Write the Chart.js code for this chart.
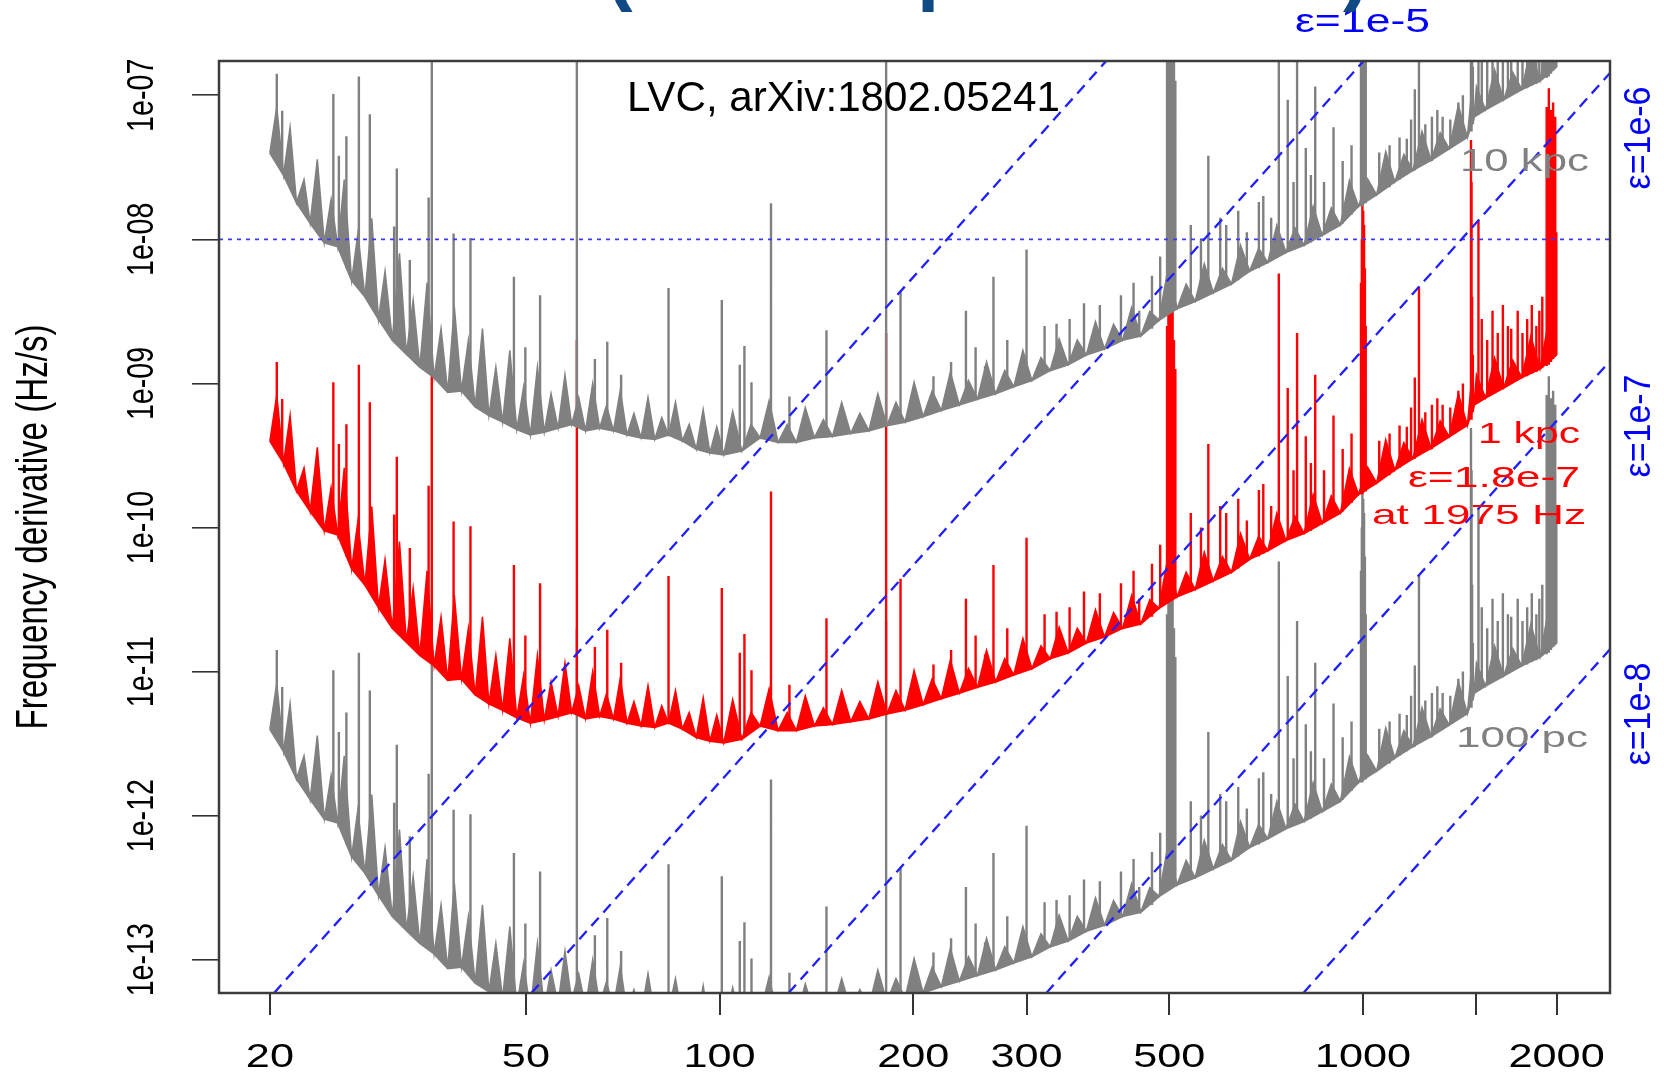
<!DOCTYPE html>
<html>
<head>
<meta charset="utf-8">
<title>Frequency derivative</title>
<script src="https://cdn.jsdelivr.net/npm/chart.js@4.4.1/dist/chart.umd.min.js"></script>
<style>
  html, body { margin: 0; padding: 0; background: #ffffff; overflow: hidden; }
  canvas { display: block; }
</style>
</head>
<body>
<canvas id="canvas" width="1664" height="1074"></canvas>
<script>

// sample frequencies of the noisy sensitivity band (Hz)
var freqHz = [
    20, 20.5, 21, 21.5, 22, 22.6, 23.1, 23.7, 24.3, 24.9,
    25.5, 26.1, 26.8, 27.4, 28.1, 28.8, 29.5, 30.2, 31, 31.8,
    32.6, 33.4, 34.2, 35.1, 36, 36.9, 37.8, 38.7, 39.7, 40.7,
    41.7, 42.8, 43.8, 44.9, 46, 47.2, 48.4, 49.6, 50.8, 52.1,
    53.4, 54.7, 56.1, 57.5, 58.9, 60.4, 61.9, 63.5, 65.1, 66.7,
    68.4, 70.1, 71.8, 73.6, 75.5, 77.4, 79.3, 81.3, 83.3, 85.4,
    87.5, 89.7, 92, 94.3, 96.6, 99, 101.5, 104.8, 108.3, 111.9,
    115.6, 119.4, 123.3, 127.4, 131.6, 135.9, 140.4, 145, 149.8, 154.8,
    159.9, 165.2, 170.6, 176.2, 182, 188, 194.2, 200.6, 207.2, 214,
    221.1, 228.4, 235.9, 243.7, 251.7, 260, 268.6, 277.5, 286.6, 296.1,
    305.8, 315.9, 326.4, 337.1, 348.2, 359.7, 371.6, 383.9, 396.5, 409.6,
    423.1, 437.1, 451.5, 466.4, 481.8, 497.7, 514.1, 531.1, 548.6, 566.7,
    585.4, 604.7, 624.7, 645.3, 666.6, 688.6, 711.3, 734.8, 759, 784.1,
    810, 836.7, 864.3, 892.8, 922.3, 952.7, 984.2, 1016.7, 1050.2, 1084.9,
    1120.7, 1157.7, 1195.9, 1235.4, 1276.1, 1318.2, 1361.7, 1406.7, 1453.1, 1470,
    1488, 1501, 1550.6, 1601.7, 1654.6, 1709.2, 1765.6, 1823.9, 1884.1, 1946.2,
    2000
];

// 1 kpc (red), low / high of the band in turn
var fdot1kpc = [
    4.0e-10, 8.3e-10, 2.8e-10, 6.0e-10, 1.8e-10, 2.6e-10, 1.3e-10, 3.6e-10, 9.5e-11, 1.9e-10,
    8.9e-11, 2.6e-10, 5.2e-11, 1.1e-10, 4.0e-11, 1.4e-10, 2.8e-11, 6.0e-11, 2.0e-11, 8.0e-11,
    1.6e-11, 3.8e-11, 1.3e-11, 5.0e-11, 1.1e-11, 2.4e-11, 8.7e-12, 3.4e-11, 8.9e-12, 2.0e-11,
    6.9e-12, 2.4e-11, 6.0e-12, 1.3e-11, 5.4e-12, 1.7e-11, 4.8e-12, 9.5e-12, 4.4e-12, 1.3e-11,
    4.6e-12, 8.5e-12, 4.9e-12, 1.15e-11, 5.2e-12, 8.0e-12, 4.7e-12, 1.0e-11, 4.9e-12, 7.0e-12,
    4.7e-12, 9.0e-12, 4.4e-12, 6.2e-12, 4.2e-12, 8.0e-12, 4.1e-12, 5.8e-12, 4.4e-12, 7.4e-12,
    4.0e-12, 5.2e-12, 3.5e-12, 6.6e-12, 3.3e-12, 5.0e-12, 3.2e-12, 6.4e-12, 3.4e-12, 5.2e-12,
    4.2e-12, 7.6e-12, 3.9e-12, 5.2e-12, 3.9e-12, 6.8e-12, 4.2e-12, 5.6e-12, 4.3e-12, 7.4e-12,
    4.5e-12, 6.2e-12, 4.7e-12, 8.5e-12, 5.1e-12, 7.4e-12, 5.4e-12, 1.02e-11, 5.9e-12, 8.9e-12,
    6.5e-12, 1.2e-11, 7.1e-12, 1.05e-11, 7.8e-12, 1.41e-11, 8.5e-12, 1.23e-11, 9.5e-12, 1.7e-11,
    1.05e-11, 1.51e-11, 1.23e-11, 2.04e-11, 1.35e-11, 2.0e-11, 1.58e-11, 2.69e-11, 1.74e-11, 2.57e-11,
    2.0e-11, 3.39e-11, 2.14e-11, 3.16e-11, 2.75e-11, 6.3e-11, 3.31e-11, 4.9e-11, 3.72e-11, 6.76e-11,
    4.27e-11, 6.3e-11, 4.9e-11, 9.1e-11, 6.03e-11, 8.7e-11, 6.92e-11, 1.26e-10, 8.13e-11, 1.2e-10,
    9.12e-11, 1.7e-10, 1.07e-10, 1.66e-10, 1.26e-10, 2.57e-10, 1.7e-10, 2.63e-10, 2.04e-10, 4.07e-10,
    2.51e-10, 3.89e-10, 3.02e-10, 5.62e-10, 3.55e-10, 5.5e-10, 4.27e-10, 8.5e-10, 5.13e-10, 8.91e-10,
    7.08e-10, 1.15e-9, 7.94e-10, 1.51e-9, 9.33e-10, 1.45e-9, 1.1e-9, 2.14e-9, 1.26e-9, 2.82e-9,
    1.58e-9
];

// 10 kpc (gray, upper)
var fdot10kpc = [
    4.0e-8, 8.3e-8, 2.8e-8, 6.0e-8, 1.8e-8, 2.6e-8, 1.3e-8, 3.6e-8, 9.5e-9, 1.9e-8,
    8.9e-9, 2.6e-8, 5.2e-9, 1.1e-8, 4.0e-9, 1.4e-8, 2.8e-9, 6.0e-9, 2.0e-9, 8.0e-9,
    1.6e-9, 3.8e-9, 1.3e-9, 5.0e-9, 1.1e-9, 2.4e-9, 8.7e-10, 3.4e-9, 8.9e-10, 2.0e-9,
    6.9e-10, 2.4e-9, 6.0e-10, 1.3e-9, 5.4e-10, 1.7e-9, 4.8e-10, 9.5e-10, 4.4e-10, 1.3e-9,
    4.6e-10, 8.5e-10, 4.9e-10, 1.15e-9, 5.2e-10, 8.0e-10, 4.7e-10, 1.0e-9, 4.9e-10, 7.0e-10,
    4.7e-10, 9.0e-10, 4.4e-10, 6.2e-10, 4.2e-10, 8.0e-10, 4.1e-10, 5.8e-10, 4.4e-10, 7.4e-10,
    4.0e-10, 5.2e-10, 3.5e-10, 6.6e-10, 3.3e-10, 5.0e-10, 3.2e-10, 6.4e-10, 3.4e-10, 5.2e-10,
    4.2e-10, 7.6e-10, 3.9e-10, 5.2e-10, 3.9e-10, 6.8e-10, 4.2e-10, 5.6e-10, 4.3e-10, 7.4e-10,
    4.5e-10, 6.2e-10, 4.7e-10, 8.5e-10, 5.1e-10, 7.4e-10, 5.4e-10, 1.02e-9, 5.9e-10, 8.9e-10,
    6.5e-10, 1.2e-9, 7.1e-10, 1.05e-9, 7.8e-10, 1.41e-9, 8.5e-10, 1.23e-9, 9.5e-10, 1.7e-9,
    1.05e-9, 1.51e-9, 1.23e-9, 2.04e-9, 1.35e-9, 2.0e-9, 1.58e-9, 2.69e-9, 1.74e-9, 2.57e-9,
    2.0e-9, 3.39e-9, 2.14e-9, 3.16e-9, 2.75e-9, 6.3e-9, 3.31e-9, 4.9e-9, 3.72e-9, 6.76e-9,
    4.27e-9, 6.3e-9, 4.9e-9, 9.1e-9, 6.03e-9, 8.7e-9, 6.92e-9, 1.26e-8, 8.13e-9, 1.2e-8,
    9.12e-9, 1.7e-8, 1.07e-8, 1.66e-8, 1.26e-8, 2.57e-8, 1.7e-8, 2.63e-8, 2.04e-8, 4.07e-8,
    2.51e-8, 3.89e-8, 3.02e-8, 5.62e-8, 3.55e-8, 5.5e-8, 4.27e-8, 8.5e-8, 5.13e-8, 8.91e-8,
    7.08e-8, 1.15e-7, 7.94e-8, 1.51e-7, 9.33e-8, 1.45e-7, 1.1e-7, 2.14e-7, 1.26e-7, 2.82e-7,
    1.58e-7
];

// 100 pc (gray, lower)
var fdot100pc = [
    4.0e-12, 8.3e-12, 2.8e-12, 6.0e-12, 1.8e-12, 2.6e-12, 1.3e-12, 3.6e-12, 9.5e-13, 1.9e-12,
    8.9e-13, 2.6e-12, 5.2e-13, 1.1e-12, 4.0e-13, 1.4e-12, 2.8e-13, 6.0e-13, 2.0e-13, 8.0e-13,
    1.6e-13, 3.8e-13, 1.3e-13, 5.0e-13, 1.1e-13, 2.4e-13, 8.7e-14, 3.4e-13, 8.9e-14, 2.0e-13,
    6.9e-14, 2.4e-13, 6.0e-14, 1.3e-13, 5.4e-14, 1.7e-13, 4.8e-14, 9.5e-14, 4.4e-14, 1.3e-13,
    4.6e-14, 8.5e-14, 4.9e-14, 1.15e-13, 5.2e-14, 8.0e-14, 4.7e-14, 1.0e-13, 4.9e-14, 7.0e-14,
    4.7e-14, 9.0e-14, 4.4e-14, 6.2e-14, 4.2e-14, 8.0e-14, 4.1e-14, 5.8e-14, 4.4e-14, 7.4e-14,
    4.0e-14, 5.2e-14, 3.5e-14, 6.6e-14, 3.3e-14, 5.0e-14, 3.2e-14, 6.4e-14, 3.4e-14, 5.2e-14,
    4.2e-14, 7.6e-14, 3.9e-14, 5.2e-14, 3.9e-14, 6.8e-14, 4.2e-14, 5.6e-14, 4.3e-14, 7.4e-14,
    4.5e-14, 6.2e-14, 4.7e-14, 8.5e-14, 5.1e-14, 7.4e-14, 5.4e-14, 1.02e-13, 5.9e-14, 8.9e-14,
    6.5e-14, 1.2e-13, 7.1e-14, 1.05e-13, 7.8e-14, 1.41e-13, 8.5e-14, 1.23e-13, 9.5e-14, 1.7e-13,
    1.05e-13, 1.51e-13, 1.23e-13, 2.04e-13, 1.35e-13, 2.0e-13, 1.58e-13, 2.69e-13, 1.74e-13, 2.57e-13,
    2.0e-13, 3.39e-13, 2.14e-13, 3.16e-13, 2.75e-13, 6.3e-13, 3.31e-13, 4.9e-13, 3.72e-13, 6.76e-13,
    4.27e-13, 6.3e-13, 4.9e-13, 9.1e-13, 6.03e-13, 8.7e-13, 6.92e-13, 1.26e-12, 8.13e-13, 1.2e-12,
    9.12e-13, 1.7e-12, 1.07e-12, 1.66e-12, 1.26e-12, 2.57e-12, 1.7e-12, 2.63e-12, 2.04e-12, 4.07e-12,
    2.51e-12, 3.89e-12, 3.02e-12, 5.62e-12, 3.55e-12, 5.5e-12, 4.27e-12, 8.5e-12, 5.13e-12, 8.91e-12,
    7.08e-12, 1.15e-11, 7.94e-12, 1.51e-11, 9.33e-12, 1.45e-11, 1.1e-11, 2.14e-11, 1.26e-11, 2.82e-11,
    1.58e-11
];

// narrow spectral lines (Hz) with their top and foot
var lineHz = [
    20.5, 20.9, 25.1, 25.6, 26.3, 27.5, 28.6, 31.2, 31.5, 33,
    35.3, 35.7, 38.6, 41, 47.9, 49.9, 52.6, 60, 64, 66.9,
    70.3, 83.3, 100.8, 107.5, 109.3, 112.1, 120.2, 128.4, 146.6, 181.5,
    191.1, 215, 229, 241.5, 250, 258.6, 266.5, 280, 300, 320,
    334, 350, 368.5, 390, 420.6, 440, 449, 470, 484, 496,
    498.5, 501, 503.5, 506, 508.5, 511, 540, 560, 575, 600,
    613, 640, 660, 689, 700, 720, 740, 764, 780, 790,
    815, 830, 843, 870, 900, 930, 960, 993, 996, 998,
    1001, 1004, 1007, 1010, 1060, 1100, 1140, 1170, 1188, 1204,
    1222, 1250, 1280, 1305, 1330, 1367, 1407, 1430, 1472, 1475,
    1478, 1482, 1512, 1530, 1560, 1590, 1620, 1650, 1680, 1700,
    1740, 1770, 1800, 1830, 1860, 1880, 1900, 1930, 1945, 1960,
    1975, 1990, 1998
];
var lineTop1kpc = [
    1.41e-9, 7.8e-10, 1.02e-9, 3.8e-10, 5.2e-10, 1.35e-9, 7.4e-10, 1.23e-10, 3.1e-10, 7.2e-11,
    1.95e-10, 1.91e-9, 1.1e-10, 1.02e-10, 5.5e-11, 1.78e-11, 4.1e-11, 2.0e-9, 1.48e-11, 1.95e-11,
    1.15e-11, 4.6e-11, 3.8e-11, 1.35e-11, 1.82e-11, 1.02e-11, 1.78e-10, 8.1e-12, 2.34e-11, 2.24e-9,
    4.4e-11, 1.12e-11, 1.41e-11, 3.2e-11, 1.78e-11, 1.32e-11, 5.5e-11, 2.0e-11, 8.5e-11, 2.5e-11,
    2.6e-11, 2.8e-11, 3.6e-11, 3.5e-11, 4.1e-11, 5.0e-11, 3.2e-11, 5.6e-11, 7.6e-11, 2.5e-9,
    3.5e-9, 4.7e-9, 4.0e-9, 3.2e-9, 2.0e-9, 1.26e-9, 1.26e-10, 1.0e-10, 3.8e-10, 1.41e-10,
    1.26e-10, 1.58e-10, 1.12e-10, 1.82e-10, 2.0e-10, 1.41e-10, 5.8e-9, 9.3e-10, 2.5e-10, 2.24e-9,
    4.3e-10, 2.8e-10, 1.15e-9, 2.5e-10, 6.0e-10, 3.5e-10, 4.5e-10, 5.0e-9, 1.0e-8, 2.14e-8,
    1.58e-8, 1.26e-8, 6.3e-9, 2.5e-9, 4.0e-10, 4.5e-10, 5.1e-10, 5.0e-10, 6.8e-10, 1.1e-9,
    4.7e-9, 6.3e-10, 7.1e-10, 7.9e-10, 7.1e-10, 6.8e-10, 8.9e-10, 1.0e-9, 4.9e-8, 2.5e-8,
    4.0e-9, 1.58e-9, 1.35e-8, 2.8e-9, 2.0e-9, 3.2e-9, 2.24e-9, 3.5e-9, 2.5e-9, 2.4e-9,
    3.2e-9, 2.24e-9, 2.8e-9, 3.5e-9, 2.5e-9, 3.2e-9, 4.0e-9, 8.3e-8, 1.12e-7, 7.9e-8,
    8.9e-8, 7.1e-8, 1.12e-8
];
var lineFoot1kpc = [
    4.0e-10, 3.2e-10, 1.26e-10, 1.0e-10, 6.3e-11, 5.0e-11, 4.0e-11, 2.5e-11, 2.5e-11, 1.6e-11,
    1.26e-11, 1.26e-11, 1.0e-11, 7.9e-12, 5.0e-12, 5.0e-12, 5.0e-12, 5.0e-12, 5.0e-12, 5.0e-12,
    4.5e-12, 4.5e-12, 3.5e-12, 3.5e-12, 3.5e-12, 4.0e-12, 4.0e-12, 4.0e-12, 4.2e-12, 5.0e-12,
    5.4e-12, 6.3e-12, 6.8e-12, 7.4e-12, 7.8e-12, 8.1e-12, 8.5e-12, 9.1e-12, 1.02e-11, 1.17e-11,
    1.26e-11, 1.38e-11, 1.58e-11, 1.7e-11, 2.0e-11, 2.1e-11, 2.1e-11, 2.4e-11, 2.8e-11, 4.0e-11,
    4.0e-11, 4.0e-11, 4.0e-11, 3.5e-11, 3.5e-11, 3.5e-11, 3.6e-11, 3.9e-11, 4.2e-11, 4.5e-11,
    5.0e-11, 5.2e-11, 5.8e-11, 6.3e-11, 6.6e-11, 7.1e-11, 7.8e-11, 8.3e-11, 8.5e-11, 8.9e-11,
    9.3e-11, 9.5e-11, 1.0e-10, 1.07e-10, 1.2e-10, 1.29e-10, 1.48e-10, 1.7e-10, 1.7e-10, 1.7e-10,
    1.75e-10, 1.78e-10, 1.78e-10, 1.78e-10, 2.1e-10, 2.3e-10, 2.6e-10, 2.8e-10, 2.95e-10, 3.0e-10,
    3.2e-10, 3.4e-10, 3.5e-10, 3.8e-10, 4.0e-10, 4.4e-10, 4.8e-10, 5.0e-10, 5.6e-10, 5.6e-10,
    6.3e-10, 6.3e-10, 7.4e-10, 7.9e-10, 8.1e-10, 8.5e-10, 8.9e-10, 9.3e-10, 9.8e-10, 1.0e-9,
    1.05e-9, 1.1e-9, 1.12e-9, 1.17e-9, 1.2e-9, 1.26e-9, 1.29e-9, 1.32e-9, 1.35e-9, 1.41e-9,
    1.48e-9, 1.58e-9, 1.58e-9
];
var lineTop10kpc = [
    1.41e-7, 7.8e-8, 1.02e-7, 3.8e-8, 5.2e-8, 1.35e-7, 7.4e-8, 1.23e-8, 3.1e-8, 7.2e-9,
    1.95e-8, 1.91e-7, 1.1e-8, 1.02e-8, 5.5e-9, 1.78e-9, 4.1e-9, 2.0e-7, 1.48e-9, 1.95e-9,
    1.15e-9, 4.6e-9, 3.8e-9, 1.35e-9, 1.82e-9, 1.02e-9, 1.78e-8, 8.1e-10, 2.34e-9, 2.24e-7,
    4.4e-9, 1.12e-9, 1.41e-9, 3.2e-9, 1.78e-9, 1.32e-9, 5.5e-9, 2.0e-9, 8.5e-9, 2.5e-9,
    2.6e-9, 2.8e-9, 3.6e-9, 3.5e-9, 4.1e-9, 5.0e-9, 3.2e-9, 5.6e-9, 7.6e-9, 2.5e-7,
    3.5e-7, 4.7e-7, 4.0e-7, 3.2e-7, 2.0e-7, 1.26e-7, 1.26e-8, 1.0e-8, 3.8e-8, 1.41e-8,
    1.26e-8, 1.58e-8, 1.12e-8, 1.82e-8, 2.0e-8, 1.41e-8, 5.8e-7, 9.3e-8, 2.5e-8, 2.24e-7,
    4.3e-8, 2.8e-8, 1.15e-7, 2.5e-8, 6.0e-8, 3.5e-8, 4.5e-8, 5.0e-7, 1.0e-6, 2.14e-6,
    1.58e-6, 1.26e-6, 6.3e-7, 2.5e-7, 4.0e-8, 4.5e-8, 5.1e-8, 5.0e-8, 6.8e-8, 1.1e-7,
    4.7e-7, 6.3e-8, 7.1e-8, 7.9e-8, 7.1e-8, 6.8e-8, 8.9e-8, 1.0e-7, 4.9e-6, 2.5e-6,
    4.0e-7, 1.58e-7, 1.35e-6, 2.8e-7, 2.0e-7, 3.2e-7, 2.24e-7, 3.5e-7, 2.5e-7, 2.4e-7,
    3.2e-7, 2.24e-7, 2.8e-7, 3.5e-7, 2.5e-7, 3.2e-7, 4.0e-7, 8.3e-6, 1.12e-5, 7.9e-6,
    8.9e-6, 7.1e-6, 1.12e-6
];
var lineFoot10kpc = [
    4.0e-8, 3.2e-8, 1.26e-8, 1.0e-8, 6.3e-9, 5.0e-9, 4.0e-9, 2.5e-9, 2.5e-9, 1.6e-9,
    1.26e-9, 1.26e-9, 1.0e-9, 7.9e-10, 5.0e-10, 5.0e-10, 5.0e-10, 5.0e-10, 5.0e-10, 5.0e-10,
    4.5e-10, 4.5e-10, 3.5e-10, 3.5e-10, 3.5e-10, 4.0e-10, 4.0e-10, 4.0e-10, 4.2e-10, 5.0e-10,
    5.4e-10, 6.3e-10, 6.8e-10, 7.4e-10, 7.8e-10, 8.1e-10, 8.5e-10, 9.1e-10, 1.02e-9, 1.17e-9,
    1.26e-9, 1.38e-9, 1.58e-9, 1.7e-9, 2.0e-9, 2.1e-9, 2.1e-9, 2.4e-9, 2.8e-9, 4.0e-9,
    4.0e-9, 4.0e-9, 4.0e-9, 3.5e-9, 3.5e-9, 3.5e-9, 3.6e-9, 3.9e-9, 4.2e-9, 4.5e-9,
    5.0e-9, 5.2e-9, 5.8e-9, 6.3e-9, 6.6e-9, 7.1e-9, 7.8e-9, 8.3e-9, 8.5e-9, 8.9e-9,
    9.3e-9, 9.5e-9, 1.0e-8, 1.07e-8, 1.2e-8, 1.29e-8, 1.48e-8, 1.7e-8, 1.7e-8, 1.7e-8,
    1.75e-8, 1.78e-8, 1.78e-8, 1.78e-8, 2.1e-8, 2.3e-8, 2.6e-8, 2.8e-8, 2.95e-8, 3.0e-8,
    3.2e-8, 3.4e-8, 3.5e-8, 3.8e-8, 4.0e-8, 4.4e-8, 4.8e-8, 5.0e-8, 5.6e-8, 5.6e-8,
    6.3e-8, 6.3e-8, 7.4e-8, 7.9e-8, 8.1e-8, 8.5e-8, 8.9e-8, 9.3e-8, 9.8e-8, 1.0e-7,
    1.05e-7, 1.1e-7, 1.12e-7, 1.17e-7, 1.2e-7, 1.26e-7, 1.29e-7, 1.32e-7, 1.35e-7, 1.41e-7,
    1.48e-7, 1.58e-7, 1.58e-7
];
var lineTop100pc = [
    1.41e-11, 7.8e-12, 1.02e-11, 3.8e-12, 5.2e-12, 1.35e-11, 7.4e-12, 1.23e-12, 3.1e-12, 7.2e-13,
    1.95e-12, 1.91e-11, 1.1e-12, 1.02e-12, 5.5e-13, 1.78e-13, 4.1e-13, 2.0e-11, 1.48e-13, 1.95e-13,
    1.15e-13, 4.6e-13, 3.8e-13, 1.35e-13, 1.82e-13, 1.02e-13, 1.78e-12, 8.1e-14, 2.34e-13, 2.24e-11,
    4.4e-13, 1.12e-13, 1.41e-13, 3.2e-13, 1.78e-13, 1.32e-13, 5.5e-13, 2.0e-13, 8.5e-13, 2.5e-13,
    2.6e-13, 2.8e-13, 3.6e-13, 3.5e-13, 4.1e-13, 5.0e-13, 3.2e-13, 5.6e-13, 7.6e-13, 2.5e-11,
    3.5e-11, 4.7e-11, 4.0e-11, 3.2e-11, 2.0e-11, 1.26e-11, 1.26e-12, 1.0e-12, 3.8e-12, 1.41e-12,
    1.26e-12, 1.58e-12, 1.12e-12, 1.82e-12, 2.0e-12, 1.41e-12, 5.8e-11, 9.3e-12, 2.5e-12, 2.24e-11,
    4.3e-12, 2.8e-12, 1.15e-11, 2.5e-12, 6.0e-12, 3.5e-12, 4.5e-12, 5.0e-11, 1.0e-10, 2.14e-10,
    1.58e-10, 1.26e-10, 6.3e-11, 2.5e-11, 4.0e-12, 4.5e-12, 5.1e-12, 5.0e-12, 6.8e-12, 1.1e-11,
    4.7e-11, 6.3e-12, 7.1e-12, 7.9e-12, 7.1e-12, 6.8e-12, 8.9e-12, 1.0e-11, 4.9e-10, 2.5e-10,
    4.0e-11, 1.58e-11, 1.35e-10, 2.8e-11, 2.0e-11, 3.2e-11, 2.24e-11, 3.5e-11, 2.5e-11, 2.4e-11,
    3.2e-11, 2.24e-11, 2.8e-11, 3.5e-11, 2.5e-11, 3.2e-11, 4.0e-11, 8.3e-10, 1.12e-9, 7.9e-10,
    8.9e-10, 7.1e-10, 1.12e-10
];
var lineFoot100pc = [
    4.0e-12, 3.2e-12, 1.26e-12, 1.0e-12, 6.3e-13, 5.0e-13, 4.0e-13, 2.5e-13, 2.5e-13, 1.6e-13,
    1.26e-13, 1.26e-13, 1.0e-13, 7.9e-14, 5.0e-14, 5.0e-14, 5.0e-14, 5.0e-14, 5.0e-14, 5.0e-14,
    4.5e-14, 4.5e-14, 3.5e-14, 3.5e-14, 3.5e-14, 4.0e-14, 4.0e-14, 4.0e-14, 4.2e-14, 5.0e-14,
    5.4e-14, 6.3e-14, 6.8e-14, 7.4e-14, 7.8e-14, 8.1e-14, 8.5e-14, 9.1e-14, 1.02e-13, 1.17e-13,
    1.26e-13, 1.38e-13, 1.58e-13, 1.7e-13, 2.0e-13, 2.1e-13, 2.1e-13, 2.4e-13, 2.8e-13, 4.0e-13,
    4.0e-13, 4.0e-13, 4.0e-13, 3.5e-13, 3.5e-13, 3.5e-13, 3.6e-13, 3.9e-13, 4.2e-13, 4.5e-13,
    5.0e-13, 5.2e-13, 5.8e-13, 6.3e-13, 6.6e-13, 7.1e-13, 7.8e-13, 8.3e-13, 8.5e-13, 8.9e-13,
    9.3e-13, 9.5e-13, 1.0e-12, 1.07e-12, 1.2e-12, 1.29e-12, 1.48e-12, 1.7e-12, 1.7e-12, 1.7e-12,
    1.75e-12, 1.78e-12, 1.78e-12, 1.78e-12, 2.1e-12, 2.3e-12, 2.6e-12, 2.8e-12, 2.95e-12, 3.0e-12,
    3.2e-12, 3.4e-12, 3.5e-12, 3.8e-12, 4.0e-12, 4.4e-12, 4.8e-12, 5.0e-12, 5.6e-12, 5.6e-12,
    6.3e-12, 6.3e-12, 7.4e-12, 7.9e-12, 8.1e-12, 8.5e-12, 8.9e-12, 9.3e-12, 9.8e-12, 1.0e-11,
    1.05e-11, 1.1e-11, 1.12e-11, 1.17e-11, 1.2e-11, 1.26e-11, 1.29e-11, 1.32e-11, 1.35e-11, 1.41e-11,
    1.48e-11, 1.58e-11, 1.58e-11
];

// ellipticity lines (eps = 1e-4 ... 1e-8), end points where they leave the frame
var epsHz = [[20.3, 399], [51, 1002], [128, 2421], [322, 2421], [808, 2421]];
var epsFdot = [[5.87e-14, 1.73e-7], [5.87e-14, 1.73e-7], [5.87e-14, 1.43e-7], [5.87e-14, 1.43e-9], [5.87e-14, 1.43e-11]];
var refHz = [16.67, 2421];
var refFdot = [1e-8, 1e-8];

var xTicks = [20, 50, 100, 200, 300, 500, 1000, 1500, 2000];
var xTickLabels = ['20', '50', '100', '200', '300', '500', '1000', '', '2000'];
var yTicks = [1e-7, 1e-8, 1e-9, 1e-10, 1e-11, 1e-12, 1e-13];
var yTickLabels = ['1e-07', '1e-08', '1e-09', '1e-10', '1e-11', '1e-12', '1e-13'];

var GRAY = '#808080';
var RED = '#ff0000';
var BLUE = '#0000ff';
var FONT = '"Liberation Sans", Arial, Helvetica, sans-serif';

function band(values) {
    return freqHz.map(function (f, i) { return { x: f, y: values[i] }; });
}
// lower edge of the band = the low samples
function bandFloor(values) {
    return band(values).filter(function (p, i) { return i % 2 === 0; });
}
function spikes(tops, feet) {
    var pts = [];
    lineHz.forEach(function (f, i) {
        pts.push({ x: f, y: feet[i] }, { x: f, y: tops[i] }, { x: f, y: null });
    });
    return pts;
}

function flatText(ctx, text, left, base, size, width, color) {
    ctx.save();
    ctx.font = size + 'px ' + FONT;
    ctx.fillStyle = color;
    ctx.textAlign = 'left';
    ctx.textBaseline = 'alphabetic';
    var w = ctx.measureText(text).width;
    ctx.translate(left, base);
    ctx.scale(width / w, 1);
    ctx.fillText(text, 0, 0);
    ctx.restore();
}
function centerText(ctx, text, cx, base, size, sx, color) {
    ctx.save();
    ctx.font = size + 'px ' + FONT;
    ctx.fillStyle = color;
    ctx.textAlign = 'center';
    ctx.textBaseline = 'alphabetic';
    ctx.translate(cx, base);
    ctx.scale(sx, 1);
    ctx.fillText(text, 0, 0);
    ctx.restore();
}
// text reading bottom to top, baseline on the right
function upText(ctx, text, bx, cy, size, sx, len, color) {
    ctx.save();
    ctx.font = size + 'px ' + FONT;
    ctx.fillStyle = color;
    ctx.textAlign = 'center';
    ctx.textBaseline = 'alphabetic';
    var w = ctx.measureText(text).width;
    ctx.translate(bx, cy);
    ctx.scale(sx, 1);
    ctx.rotate(-Math.PI / 2);
    if (len) ctx.scale(len / w, 1);
    ctx.fillText(text, 0, 0);
    ctx.restore();
}

var notes = [
    { text: 'LVC, arXiv:1802.05241', left: 627, base: 110.5, size: 42, width: 433, color: '#000000' },
    { text: '10 kpc', left: 1460, base: 171, size: 31, width: 129, color: GRAY },
    { text: '1 kpc', left: 1478, base: 443, size: 29, width: 102, color: RED },
    { text: 'ε=1.8e-7', left: 1408, base: 487, size: 29, width: 172, color: RED },
    { text: 'at 1975 Hz', left: 1372, base: 523.5, size: 28.5, width: 214, color: RED },
    { text: '100 pc', left: 1456, base: 747, size: 30, width: 132, color: GRAY },
    { text: 'ε=1e-5', left: 1295, base: 31.5, size: 32.7, width: 135, color: BLUE }
];
var sideNotes = [
    { text: 'ε=1e-6', cy: 138 },
    { text: 'ε=1e-7', cy: 426 },
    { text: 'ε=1e-8', cy: 714 }
];

var decorations = {
    id: 'decorations',
    beforeDraw: function (chart) {
        var ctx = chart.ctx;
        ctx.save();
        ctx.fillStyle = '#ffffff';
        ctx.fillRect(0, 0, chart.width, chart.height);
        ctx.restore();
    },
    afterDraw: function (chart) {
        var ctx = chart.ctx;
        var a = chart.chartArea;
        var xs = chart.scales.x, ys = chart.scales.y;

        ctx.save();
        ctx.strokeStyle = '#3c3c3c';
        ctx.lineWidth = 2.5;
        ctx.strokeRect(a.left, a.top, a.right - a.left, a.bottom - a.top);
        ctx.restore();

        xTicks.forEach(function (v, i) {
            if (xTickLabels[i]) centerText(ctx, xTickLabels[i], xs.getPixelForValue(v), 1067, 33.5, 1.29, '#000000');
        });
        yTicks.forEach(function (v, i) {
            upText(ctx, yTickLabels[i], 153, ys.getPixelForValue(v), 28.7, 1.3, 0, '#000000');
        });
        upText(ctx, 'Frequency derivative (Hz/s)', 47, (a.top + a.bottom) / 2, 33, 1.33, 405, '#000000');

        notes.forEach(function (n) {
            flatText(ctx, n.text, n.left, n.base, n.size, n.width, n.color);
        });
        sideNotes.forEach(function (n) {
            upText(ctx, n.text, 1650, n.cy, 33.5, 1.1, 103, BLUE);
        });

        // bottom of the slide title, cut by the picture edge
        ctx.save();
        ctx.font = 'bold 80px ' + FONT;
        ctx.fillStyle = '#0f4a85';
        ctx.textBaseline = 'alphabetic';
        ctx.fillText('(', 606, -5);
        ctx.fillText('p', 917, -5);
        ctx.fillText(')', 1343, -5);
        ctx.restore();
    }
};

var datasets = [];
epsHz.forEach(function (hz, i) {
    datasets.push({
        data: [{ x: hz[0], y: epsFdot[i][0] }, { x: hz[1], y: epsFdot[i][1] }],
        borderColor: '#1f1fff', borderWidth: 2.3, borderDash: [11, 7], fill: false
    });
});
datasets.push({
    data: [{ x: refHz[0], y: refFdot[0] }, { x: refHz[1], y: refFdot[1] }],
    borderColor: '#3a3aff', borderWidth: 1.8, borderDash: [4, 5], fill: false
});

// 10 kpc on top, then 1 kpc, then 100 pc
[[fdot10kpc, lineTop10kpc, lineFoot10kpc, GRAY],
 [fdot1kpc, lineTop1kpc, lineFoot1kpc, RED],
 [fdot100pc, lineTop100pc, lineFoot100pc, GRAY]].forEach(function (c) {
    datasets.push({ data: spikes(c[1], c[2]), borderColor: c[3], borderWidth: 2.4, fill: false });
    datasets.push({ data: band(c[0]), borderColor: c[3], backgroundColor: c[3], borderWidth: 1.5, fill: '+1' });
    datasets.push({ data: bandFloor(c[0]), borderColor: c[3], borderWidth: 2, fill: false });
});

var chart = new Chart(document.getElementById('canvas'), {
    type: 'line',
    data: { datasets: datasets },
    plugins: [decorations],
    options: {
        responsive: false,
        animation: false,
        events: [],
        layout: { padding: { left: 0, right: 54, top: 61, bottom: 0 } },
        elements: {
            point: { radius: 0, hitRadius: 0, hoverRadius: 0 },
            line: { tension: 0, borderCapStyle: 'butt' }
        },
        datasets: { line: { clip: 0, spanGaps: false } },
        plugins: { legend: { display: false }, tooltip: { enabled: false } },
        scales: {
            x: {
                type: 'logarithmic', position: 'bottom', min: 16.67, max: 2421,
                afterBuildTicks: function (s) { s.ticks = xTicks.map(function (v) { return { value: v }; }); },
                afterFit: function (s) { s.height = 81; },
                ticks: { display: false },
                grid: { drawOnChartArea: false, drawTicks: true, tickLength: 22, color: '#333333', lineWidth: 2 },
                border: { display: false }
            },
            y: {
                type: 'logarithmic', position: 'left', min: 5.87e-14, max: 1.73e-7,
                afterBuildTicks: function (s) { s.ticks = yTicks.map(function (v) { return { value: v }; }); },
                afterFit: function (s) { s.width = 219; },
                ticks: { display: false },
                grid: { drawOnChartArea: false, drawTicks: true, tickLength: 27, color: '#333333', lineWidth: 1.6 },
                border: { display: false }
            }
        }
    }
});
</script>
</body>
</html>
